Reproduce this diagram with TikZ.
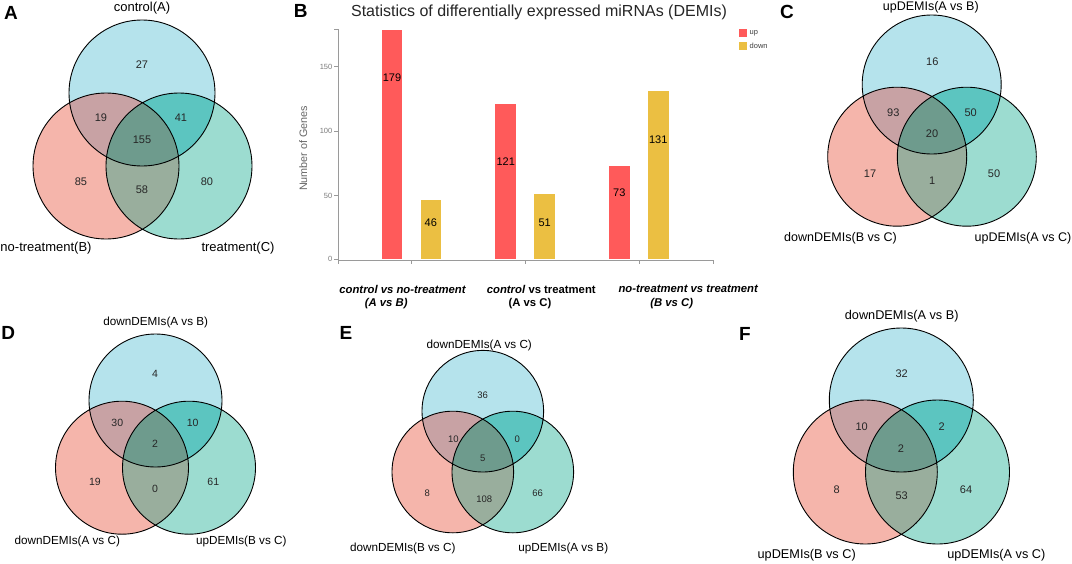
\documentclass[tikz,border=0pt]{standalone}
\usepackage{fontspec}
\setmainfont{Liberation Sans}
\definecolor{cA}{HTML}{B5E3EC}
\definecolor{cB}{HTML}{F5B5AB}
\definecolor{cC}{HTML}{9CDCD0}
\definecolor{cAB}{HTML}{C8A2A4}
\definecolor{cAC}{HTML}{5CC5C0}
\definecolor{cBC}{HTML}{99AE9D}
\definecolor{cABC}{HTML}{6E9B8D}
\definecolor{barup}{HTML}{FF5A5A}
\definecolor{bardown}{HTML}{EBBF42}
\definecolor{axisgray}{HTML}{9A9A9A}
\definecolor{ticktext}{HTML}{7A7A7A}
\newcommand\vennregions[4]{%
  \fill[cA] (#1) circle[radius=#4];
  \fill[cB] (#2) circle[radius=#4];
  \fill[cC] (#3) circle[radius=#4];
  \begin{scope}\clip (#2) circle[radius=#4]; \fill[cBC] (#3) circle[radius=#4];\end{scope}
  \begin{scope}\clip (#1) circle[radius=#4];
    \fill[cAB] (#2) circle[radius=#4];
    \fill[cAC] (#3) circle[radius=#4];
    \clip (#2) circle[radius=#4];
    \fill[cABC] (#3) circle[radius=#4];
  \end{scope}
  \draw[vline] (#1) circle[radius=#4] (#2) circle[radius=#4] (#3) circle[radius=#4];
}
\tikzset{
  vline/.style={draw=black, line width=0.9pt},
  vlab/.style={font=\fontsize{#1}{#1}\selectfont, text=black, inner sep=0pt},
  vnum/.style={font=\fontsize{#1}{#1}\selectfont, text=black!85, inner sep=0pt},
  plabel/.style={font=\fontsize{19}{19}\selectfont\bfseries, inner sep=0pt},
  axisline/.style={draw=axisgray, line width=0.8pt},
  ticklab/.style={font=\fontsize{7.5}{7.5}\selectfont, text=ticktext, inner sep=0pt, anchor=east},
  barval/.style={font=\fontsize{11}{11}\selectfont, text=black, inner sep=0pt},
  xlab/.style={font=\fontsize{11.3}{11.3}\selectfont\bfseries, inner sep=0pt},
  leglab/.style={font=\fontsize{7.5}{7.5}\selectfont, text=black!75, inner sep=0pt, anchor=west}
}
\begin{document}
\begin{tikzpicture}[x=1pt,y=-1pt]
\useasboundingbox[fill=white] (0,0) rectangle (1072,563);

% ---------- Panel A ----------
\node[plabel] (labA) at (11,13) {A};
\coordinate (aT) at (142,93);
\coordinate (aL) at (106,166);
\coordinate (aR) at (179,166);
\vennregions{aT}{aL}{aR}{73pt}
\node[vlab=13] (aTl) at (142,8) {control(A)};
\node[vlab=13] (aLl) at (46,248) {no-treatment(B)};
\node[vlab=13] (aRl) at (238,248) {treatment(C)};
\node[vnum=11] (an1) at (142,65) {27};
\node[vnum=11] (an2) at (101,118) {19};
\node[vnum=11] (an3) at (181,118) {41};
\node[vnum=11] (an4) at (142,140) {155};
\node[vnum=11] (an5) at (81,182) {85};
\node[vnum=11] (an6) at (142,190) {58};
\node[vnum=11] (an7) at (207,182) {80};

% ---------- Panel B ----------
\node[plabel] (labB) at (300.8,11) {B};
\node[font=\fontsize{16}{16}\selectfont, text=black!85, inner sep=0pt] (title) at (539,12.7) {Statistics of differentially expressed miRNAs (DEMIs)};
\node[font=\fontsize{10.8}{10.8}\selectfont, text=black!60, inner sep=0pt, rotate=90] (ylab) at (303.3,148.3) {Number of Genes};
% bars
\fill[barup] (381.7,259.3) rectangle (402.3,29.5);
\fill[bardown] (420.7,259.3) rectangle (441,200.2);
\fill[barup] (495.3,259.3) rectangle (516,103.9);
\fill[bardown] (534.3,259.3) rectangle (555,193.8);
\fill[barup] (609,259.3) rectangle (629.7,165.6);
\fill[bardown] (648,259.3) rectangle (668.7,91.1);
% axes
\coordinate (ytop) at (338.3,29.3);
\coordinate (orig) at (338.3,260);
\coordinate (xend) at (713.3,260);
\draw[axisline] (ytop) -- (orig) -- (xend);
\foreach \yy in {29.3,66.7,131,195.7,259.3} \draw[axisline] (334.3,\yy) -- (338.3,\yy);
\foreach \xx in {338.3,411.7,525.7,639.3,713.3} \draw[axisline] (\xx,260) -- (\xx,264);
\node[ticklab] (t150) at (332.5,66.7) {150};
\node[ticklab] (t100) at (332.5,131) {100};
\node[ticklab] (t50) at (332.5,195.7) {50};
\node[ticklab] (t0) at (332.5,259.3) {0};
% values
\node[barval] (v1) at (392,77.7) {179};
\node[barval] (v2) at (430.8,222.7) {46};
\node[barval] (v3) at (505.7,161.7) {121};
\node[barval] (v4) at (544.7,222.7) {51};
\node[barval] (v5) at (619.3,192.3) {73};
\node[barval] (v6) at (658.3,140) {131};
% legend
\fill[barup] (739,29.3) rectangle (746.7,37.3);
\fill[bardown] (739,41.7) rectangle (746.7,50);
\node[leglab] (lup) at (749.5,33.3) {up};
\node[leglab] (ldown) at (749.5,45.8) {down};
% x labels
\node[xlab, font=\fontsize{11.3}{11.3}\selectfont\bfseries\itshape] (x1a) at (402.5,289) {control vs no-treatment};
\node[xlab, font=\fontsize{11.3}{11.3}\selectfont\bfseries\itshape] (x1b) at (386.2,303.3) {(A vs B)};
\node[xlab] (x2a) at (541.3,289) {\textit{control} vs treatment};
\node[xlab] (x2b) at (530,303.3) {(A vs C)};
\node[xlab, font=\fontsize{11.3}{11.3}\selectfont\bfseries\itshape, anchor=west] (x3a) at (618.3,289) {no-treatment vs treatment};
\node[xlab, font=\fontsize{11.3}{11.3}\selectfont\bfseries\itshape] (x3b) at (671.7,303.3) {(B vs C)};

% ---------- Panel C ----------
\node[plabel] (labC) at (787,11.7) {C};
\coordinate (cT) at (931.7,84.5);
\coordinate (cL) at (897.2,156.7);
\coordinate (cR) at (966.8,156.7);
\vennregions{cT}{cL}{cR}{69.5pt}
\node[vlab=12.5] (cTl) at (930.8,7.5) {upDEMIs(A vs B)};
\node[vlab=12.5] (cLl) at (840.5,238) {downDEMIs(B vs C)};
\node[vlab=12.5] (cRl) at (1023,238) {upDEMIs(A vs C)};
\node[vnum=11] (cn1) at (932.3,61.7) {16};
\node[vnum=11] (cn2) at (893.3,112.7) {93};
\node[vnum=11] (cn3) at (970.7,112.7) {50};
\node[vnum=11] (cn4) at (932,133.3) {20};
\node[vnum=11] (cn5) at (870,173.3) {17};
\node[vnum=11] (cn6) at (932.3,180.7) {1};
\node[vnum=11] (cn7) at (994,173.3) {50};

% ---------- Panel D ----------
\node[plabel] (labD) at (8.3,333.3) {D};
\coordinate (dT) at (155.5,400.5);
\coordinate (dL) at (122,467.7);
\coordinate (dR) at (189,467.7);
\vennregions{dT}{dL}{dR}{66.5pt}
\node[vlab=11.7] (dTl) at (155.8,322.7) {downDEMIs(A vs B)};
\node[vlab=11.7] (dLl) at (67.3,541.7) {downDEMIs(A vs C)};
\node[vlab=11.7] (dRl) at (241.3,541.7) {upDEMIs(B vs C)};
\node[vnum=10.5] (dn1) at (155,374.3) {4};
\node[vnum=10.5] (dn2) at (117.3,422.7) {30};
\node[vnum=10.5] (dn3) at (192.7,422.7) {10};
\node[vnum=10.5] (dn4) at (155,444.3) {2};
\node[vnum=10.5] (dn5) at (95,482.3) {19};
\node[vnum=10.5] (dn6) at (155,489) {0};
\node[vnum=10.5] (dn7) at (213.3,482.3) {61};

% ---------- Panel E ----------
\node[plabel] (labE) at (346,332.5) {E};
\coordinate (eT) at (482.8,411.2);
\coordinate (eL) at (452.8,472);
\coordinate (eR) at (512.8,472);
\vennregions{eT}{eL}{eR}{60.8pt}
\node[vlab=11.7] (eTl) at (479.2,345) {downDEMIs(A vs C)};
\node[vlab=11.7] (eLl) at (402.8,548.3) {downDEMIs(B vs C)};
\node[vlab=11.7] (eRl) at (563.3,548.3) {upDEMIs(A vs B)};
\node[vnum=9.5] (en1) at (482.7,395) {36};
\node[vnum=9.5] (en2) at (453.3,439.3) {10};
\node[vnum=9.5] (en3) at (517.3,439.3) {0};
\node[vnum=9.5] (en4) at (482.7,458.3) {5};
\node[vnum=9.5] (en5) at (427.3,493.3) {8};
\node[vnum=9.5] (en6) at (484.3,499.3) {108};
\node[vnum=9.5] (en7) at (537.7,493.3) {66};

% ---------- Panel F ----------
\node[plabel] (labF) at (745,334.2) {F};
\coordinate (fT) at (901.3,400);
\coordinate (fL) at (865.3,472);
\coordinate (fR) at (937.5,472);
\vennregions{fT}{fL}{fR}{72pt}
\node[vlab=12.7] (fTl) at (901.7,316.7) {downDEMIs(A vs B)};
\node[vlab=12.7] (fLl) at (806.7,555) {upDEMIs(B vs C)};
\node[vlab=12.7] (fRl) at (996.3,555) {upDEMIs(A vs C)};
\node[vnum=11] (fn1) at (901.7,373.3) {32};
\node[vnum=11] (fn2) at (861.7,426.7) {10};
\node[vnum=11] (fn3) at (941.7,426.7) {2};
\node[vnum=11] (fn4) at (901,448.3) {2};
\node[vnum=11] (fn5) at (836.7,489.3) {8};
\node[vnum=11] (fn6) at (901.7,496) {53};
\node[vnum=11] (fn7) at (966,489.3) {64};
\end{tikzpicture}
\end{document}
